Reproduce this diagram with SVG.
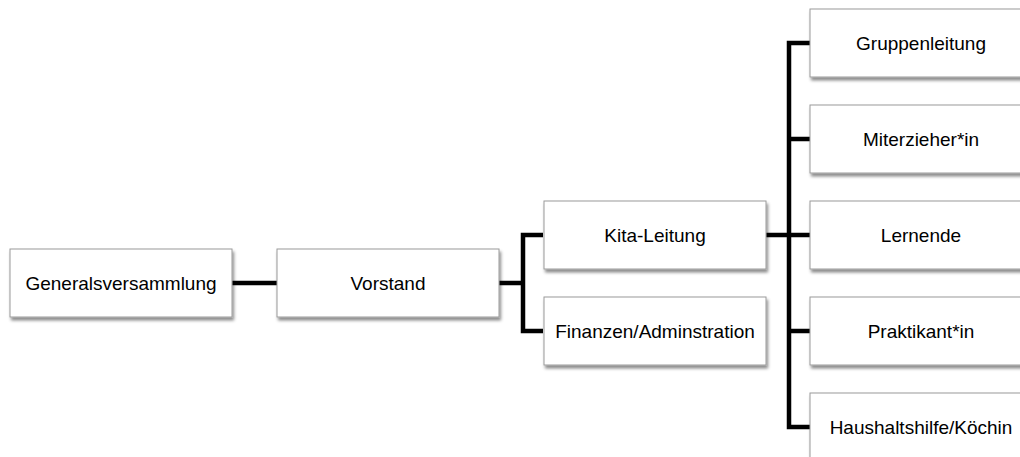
<svg xmlns="http://www.w3.org/2000/svg" width="1020" height="457" viewBox="0 0 1020 457">
<style>
.box{fill:#ffffff;stroke:#9a9a9a;stroke-width:1;filter:url(#sh)}
.lbl{font-family:"Liberation Sans",Arial,sans-serif;font-size:19px;fill:#000000;text-anchor:middle}
.con{fill:none;stroke:#000000;stroke-width:4.5;stroke-linejoin:miter;stroke-linecap:butt}
</style>
<defs>
<filter id="sh" x="-10%" y="-20%" width="130%" height="150%">
<feDropShadow dx="1.5" dy="3" stdDeviation="1.8" flood-color="#000000" flood-opacity="0.45"/>
</filter>
</defs>
<rect width="1020" height="457" fill="#ffffff"/>
<g id="connectors">
<path class="con" d="M232 283 H277"/>
<path class="con" d="M499 283 H523 M543 235 H523 V331 H543"/>
<path class="con" d="M766 235 H810 M810 43 H789 V427 H810 M789 139 H810 M789 331 H810"/>
</g>
<g id="generalsversammlung"><rect class="box" x="10" y="249" width="222" height="68"/><text class="lbl" x="121" y="290">Generalsversammlung</text></g>
<g id="vorstand"><rect class="box" x="277" y="249" width="222" height="68"/><text class="lbl" x="388" y="290">Vorstand</text></g>
<g id="kita-leitung"><rect class="box" x="544" y="201" width="222" height="68"/><text class="lbl" x="655" y="242">Kita-Leitung</text></g>
<g id="finanzen"><rect class="box" x="544" y="297" width="222" height="68"/><text class="lbl" x="655" y="338">Finanzen/Adminstration</text></g>
<g id="gruppenleitung"><rect class="box" x="810" y="9" width="222" height="68"/><text class="lbl" x="921" y="50">Gruppenleitung</text></g>
<g id="miterzieher"><rect class="box" x="810" y="105" width="222" height="68"/><text class="lbl" x="921" y="146">Miterzieher*in</text></g>
<g id="lernende"><rect class="box" x="810" y="201" width="222" height="68"/><text class="lbl" x="921" y="242">Lernende</text></g>
<g id="praktikant"><rect class="box" x="810" y="297" width="222" height="68"/><text class="lbl" x="921" y="338">Praktikant*in</text></g>
<g id="haushaltshilfe"><rect class="box" x="810" y="393" width="222" height="68"/><text class="lbl" x="921" y="434">Haushaltshilfe/Köchin</text></g>
</svg>
